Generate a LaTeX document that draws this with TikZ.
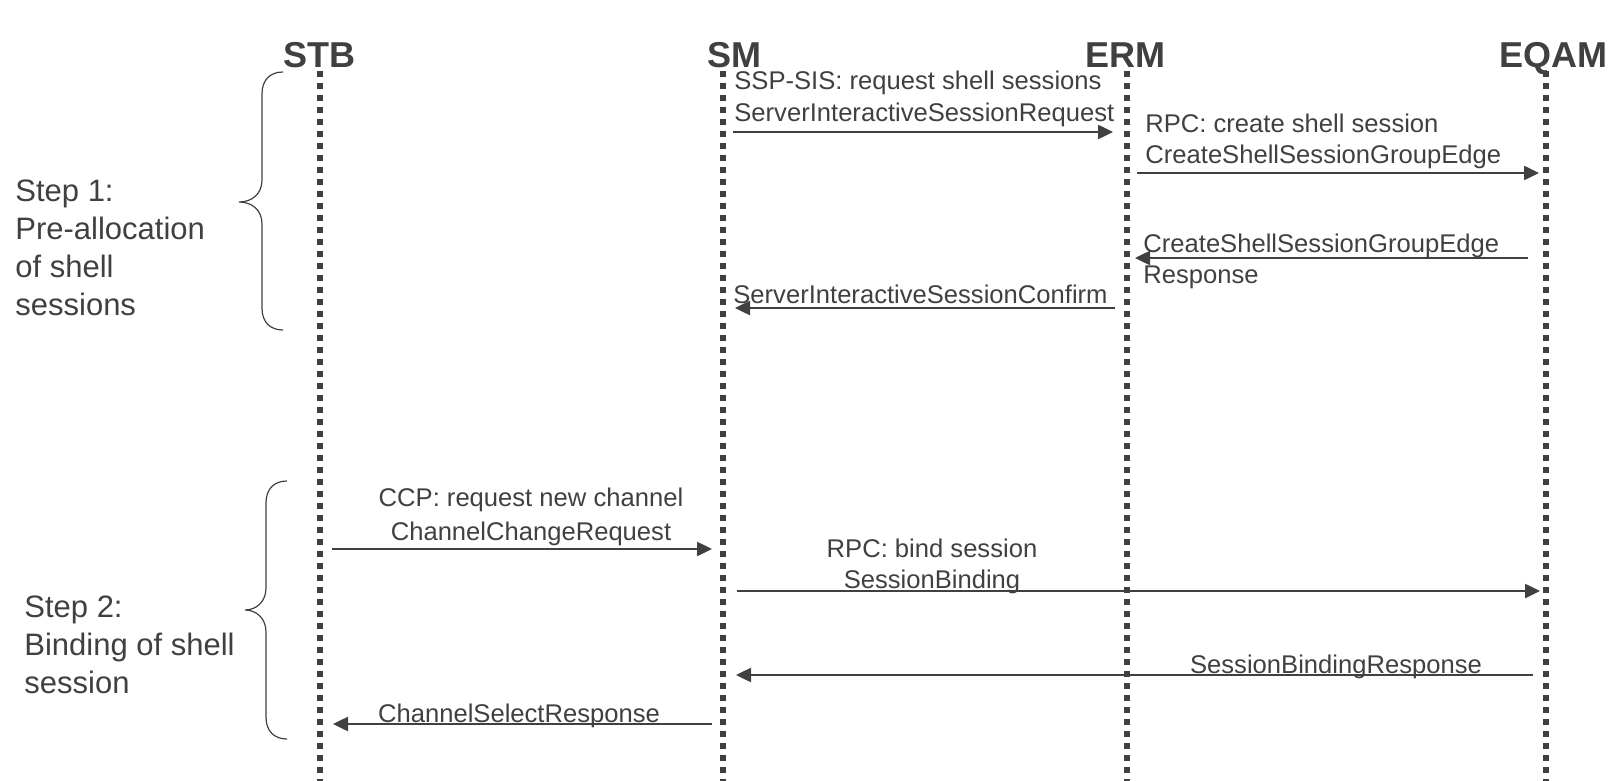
\documentclass[tikz,border=0pt]{standalone}
\usepackage{fontspec}
\setmainfont{Liberation Sans}
\usepackage{tikz}
\usetikzlibrary{arrows.meta}
\definecolor{ink}{HTML}{404040}

\tikzset{
  lifeline/.style={ink, line width=3pt, dash pattern=on 2.8pt off 3.2pt},
  msg/.style={ink, line width=1.25pt, -{Triangle[length=7.5pt,width=7pt]}},
  msgtext/.style={ink, inner sep=0pt, font=\fontsize{12.8pt}{15.5pt}\selectfont},
  actor/.style={ink, inner sep=0pt, anchor=base, font=\fontsize{18pt}{21pt}\selectfont\bfseries},
  steptext/.style={ink, inner sep=0pt, anchor=base west, align=left, font=\fontsize{15.5pt}{19pt}\selectfont},
  bracket/.style={ink, line width=0.6pt}
}

\begin{document}
\begin{tikzpicture}[x=0.5pt, y=-0.5pt]
\useasboundingbox (0,0) rectangle (1608,781);
% actors and lifelines
\node[actor] (stb) at (319,68) {STB};
\node[actor] (sm) at (734,68) {SM};
\node[actor] (erm) at (1125,68) {ERM};
\node[actor] (eqam) at (1553,68) {EQAM};
\foreach \n/\x in {stb/320, sm/723, erm/1127, eqam/1546} {
  \coordinate (\n top) at (\x,71);
  \coordinate (\n bot) at (\x,781);
  \draw[lifeline] (\n top) -- (\n bot);
}
% messages
\foreach \i/\xa/\xb/\y in {1/733/1113/132, 2/1137/1539/173, 3/1528/1135/258, 4/1115/735/308,
    5/332/712/549, 6/737/1540/591, 7/1533/736/675, 8/712/333/724} {
  \coordinate (m\i a) at (\xa,\y);
  \coordinate (m\i b) at (\xb,\y);
  \draw[msg] (m\i a) -- (m\i b);
}
% message labels
\node[msgtext, anchor=base west] (l1a) at (734,90) {SSP-SIS: request shell sessions};
\node[msgtext, anchor=base west] (l1b) at (734,122) {ServerInteractiveSessionRequest};
\node[msgtext, anchor=base west] (l2a) at (1145,133) {RPC: create shell session};
\node[msgtext, anchor=base west] (l2b) at (1145,164) {CreateShellSessionGroupEdge};
\node[msgtext, anchor=base west] (l3a) at (1143,252) {CreateShellSessionGroupEdge};
\node[msgtext, anchor=base west] (l3b) at (1143,284) {Response};
\node[msgtext, anchor=base west] (l4) at (733,303) {ServerInteractiveSessionConfirm};
\node[msgtext, anchor=base] (l5a) at (531,506) {CCP: request new channel};
\node[msgtext, anchor=base] (l5b) at (531,540) {ChannelChangeRequest};
\node[msgtext, anchor=base] (l6a) at (932,557) {RPC: bind session};
\node[msgtext, anchor=base] (l6b) at (932,588) {SessionBinding};
\node[msgtext, anchor=base] (l7) at (1336,673) {SessionBindingResponse};
\node[msgtext, anchor=base] (l8) at (519,722) {ChannelSelectResponse};
% steps
\draw[bracket] (283,72) .. controls (270,72) and (262,80) .. (262,94) -- (262,180)
  .. controls (262,194) and (252,202) .. (239,202) .. controls (252,202) and (262,210) .. (262,224)
  -- (262,308) .. controls (262,322) and (270,330) .. (283,330);
\draw[bracket] (287,481) .. controls (274,481) and (266,489) .. (266,503) -- (266,588)
  .. controls (266,602) and (256,610) .. (245,610) .. controls (256,610) and (266,618) .. (266,632)
  -- (266,717) .. controls (266,731) and (274,739) .. (287,739);
\node[steptext] (step1) at (15,315) {Step 1:\\Pre-allocation\\of shell\\sessions};
\node[steptext] (step2) at (24,693) {Step 2:\\Binding of shell\\session};
\end{tikzpicture}
\end{document}
